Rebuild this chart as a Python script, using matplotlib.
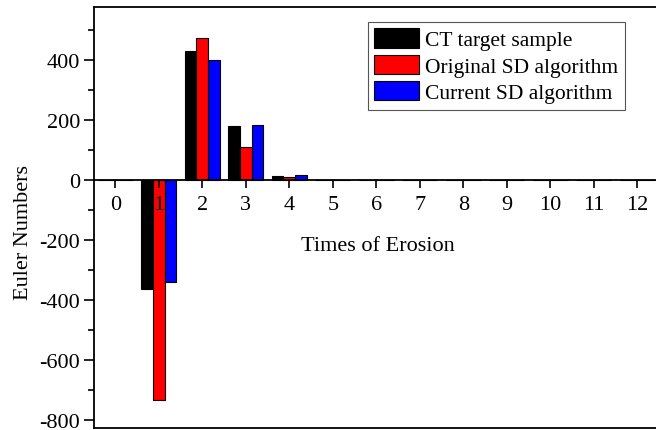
import numpy as np
import matplotlib.pyplot as plt
from matplotlib.ticker import MultipleLocator

plt.rcParams['font.family'] = ['Liberation Serif', 'DejaVu Serif']
plt.rcParams['axes.unicode_minus'] = False

erosion = np.arange(13)
ct_target = [0, -363, 431, 181, 14, 0, 0, 0, 0, 0, 0, 0, 0]
original_sd = [0, -733, 475, 109, 10, 0, 0, 0, 0, 0, 0, 0, 0]
current_sd = [0, -339, 401, 184, 17, 0, 0, 0, 0, 0, 0, 0, 0]
series_names = ['CT target sample', 'Original SD algorithm', 'Current SD algorithm']
series_colors = ['black', 'red', 'blue']

fig = plt.figure(figsize=(6.56, 4.31), dpi=100)
# axes runs slightly past the right edge, like the cropped original
ax = fig.add_axes([94/656, 2/431, 565.5/656, 421/431])
ax.set_axisbelow(False)

w = 0.27
for i, (vals, name, c) in enumerate(zip([ct_target, original_sd, current_sd], series_names, series_colors)):
    ax.bar(erosion + (i - 1) * w, vals, width=w, color=c, edgecolor='black',
           linewidth=0.8, label=name, zorder=1)

ax.set_xlim(-0.49, 12.51)
ax.set_ylim(-827, 577)

ax.spines['bottom'].set_position(('data', 0))
for s in ax.spines.values():
    s.set_linewidth(1.3)
# bottom frame line
ax.plot([0, 1], [0, 0], transform=ax.transAxes, color='black', lw=1.3, clip_on=False)

ax.set_xticks(erosion)
ax.yaxis.set_major_locator(MultipleLocator(200))
ax.yaxis.set_minor_locator(MultipleLocator(100))
ax.tick_params(axis='both', direction='out', labelsize=16, width=1.2)
ax.tick_params(axis='y', which='major', length=7, pad=3)
ax.tick_params(axis='y', which='minor', length=4, width=1.2)
ax.tick_params(axis='x', length=6, pad=5)
ax.tick_params(right=False)

ax.set_ylabel('Euler Numbers', fontsize=16)
ax.yaxis.set_label_coords(-0.108, 0.466)
ax.set_xlabel('Times of Erosion', fontsize=16)
ax.xaxis.set_label_coords(0.502, 0.457)

leg = ax.legend(loc='upper left', bbox_to_anchor=(274/565.5, 1 - 15/421), fontsize=15.5,
                frameon=True, fancybox=False, edgecolor='#555555', framealpha=1,
                handlelength=2.05, handleheight=1.0, handletextpad=0.3,
                labelspacing=0.2, borderpad=0.3, borderaxespad=0)
leg.get_frame().set_linewidth(0.8)

fig.savefig('out.png', dpi=100)
